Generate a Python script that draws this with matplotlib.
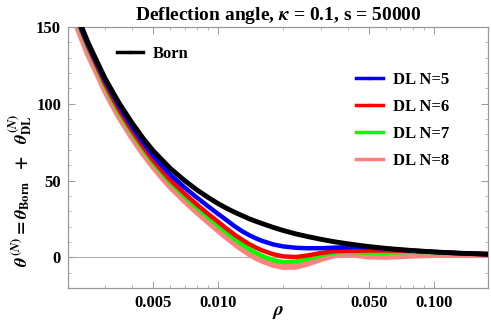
import matplotlib
matplotlib.use("Agg")
import matplotlib.pyplot as plt
from matplotlib.ticker import FixedLocator, FixedFormatter, MultipleLocator, NullFormatter
from matplotlib.lines import Line2D

# rho values (log x axis)
rho = [0.0022, 0.0025, 0.0027, 0.003, 0.0032, 0.0035, 0.004, 0.0045, 0.005, 0.0055,
       0.006, 0.007, 0.008, 0.009, 0.01, 0.011, 0.012, 0.013, 0.014, 0.015,
       0.016, 0.018, 0.02, 0.023, 0.026, 0.03, 0.035, 0.04, 0.045, 0.05,
       0.06, 0.07, 0.08, 0.1, 0.13, 0.18]

born = [159, 140, 130, 116.5, 109.5, 100, 87.5, 77.5, 69.5, 63.5,
        58, 50, 43.8, 39, 35, 31.8, 29.2, 27, 25, 23.4,
        22, 19.5, 17.5, 15.2, 13.5, 11.7, 10, 8.8, 7.8, 7,
        5.8, 5, 4.4, 3.5, 2.7, 1.95]
dl5 = [157.5, 138.5, 128.5, 115, 107.8, 98, 85, 74.8, 66.3, 59.8,
       54, 45.5, 38.8, 33.2, 28.3, 24, 20, 16.8, 14.3, 12.3,
       10.7, 8.4, 7.1, 6.2, 5.9, 5.9, 6.3, 6.6, 6.7, 6.5,
       5.6, 4.9, 4.3, 3.5, 2.7, 1.95]
dl6 = [156.5, 137.5, 127, 113, 105.5, 95.5, 82.5, 72, 63.3, 56.5,
       50.5, 41.5, 34.3, 28.3, 23.2, 18.5, 14.5, 11.2, 8.5, 6.3,
       4.5, 2.0, 0.6, 0.2, 1.2, 2.8, 4, 4.3, 4.3, 4.4,
       4.4, 4.3, 4.1, 3.4, 2.7, 1.95]
dl7 = [155.5, 136.5, 126, 111.5, 104, 94, 81, 70.5, 61.8, 55,
       49, 39.8, 32.3, 26.2, 20.8, 16, 11.8, 8.2, 5.2, 2.8,
       0.9, -1.8, -3.1, -2.8, -1.0, 1.4, 3.2, 3.6, 3.3, 3.0,
       3.0, 3.3, 3.5, 3.2, 2.6, 1.95]
dl8 = [153, 133, 123, 109, 101.5, 91.5, 78.5, 68, 59.5, 52.5,
       46.5, 37.2, 29.7, 23.5, 18, 13.2, 9, 5.4, 2.4, 0,
       -1.9, -4.6, -6, -5.8, -3.8, -0.8, 1.8, 2.4, 1.6, 0.8,
       0.6, 1.0, 1.4, 1.8, 1.9, 1.9]

plt.rcParams['font.family'] = ['Liberation Serif', 'DejaVu Serif']
plt.rcParams['font.weight'] = 'bold'
plt.rcParams['mathtext.fontset'] = 'stix'

fig = plt.figure(figsize=(4.91, 3.35), dpi=100)
ax = fig.add_axes([68/491, 1-288/335, 420/491, 261/335])

# zero line
ax.axhline(0, color='#b0b0b0', linewidth=0.8, zorder=1)

ax.plot(rho, dl8, color='#ff8080', linewidth=5, zorder=2)
ax.plot(rho, dl7, color='#00ff00', linewidth=3.2, zorder=3)
ax.plot(rho, dl6, color='#ff0000', linewidth=3.2, zorder=4)
ax.plot(rho, dl5, color='#0000ff', linewidth=3.2, zorder=5)
ax.plot(rho, born, color='black', linewidth=3.5, zorder=6)

ax.set_xscale('log')
ax.set_xlim(0.00202, 0.178)
ax.set_ylim(-20, 150)

ax.xaxis.set_major_locator(FixedLocator([0.005, 0.01, 0.05, 0.1]))
ax.xaxis.set_major_formatter(FixedFormatter(['0.005', '0.010', '0.050', '0.100']))
ax.xaxis.set_minor_locator(FixedLocator([0.003, 0.004, 0.006, 0.007, 0.008, 0.009,
                                         0.02, 0.03, 0.04, 0.06, 0.07, 0.08, 0.09]))
ax.xaxis.set_minor_formatter(NullFormatter())
ax.yaxis.set_major_locator(FixedLocator([0, 50, 100, 150]))
ax.yaxis.set_minor_locator(MultipleLocator(10))

ax.tick_params(which='both', direction='in', top=True, right=True, color='#999999',
               labelsize=12, pad=5)
ax.tick_params(which='major', length=5, width=0.7)
ax.tick_params(which='minor', length=2.5, width=0.5)
for s in ax.spines.values():
    s.set_color('#999999')
    s.set_linewidth(0.9)

ax.set_title(r'Deflection angle, $\kappa$ = 0.1, s = 50000', fontsize=14,
             fontweight='bold', pad=5)
ax.set_xlabel(r'$\rho$', fontsize=14)
ax.xaxis.set_label_coords(0.5, -0.06)
ax.set_ylabel(r'$\theta^{(N)} = \theta_{\mathbf{Born}}\ \ +\ \ \theta^{(N)}_{\mathbf{DL}}$',
              fontsize=13)
ax.yaxis.set_label_coords(-0.081, 0.375)

h_born = [Line2D([], [], color='black', linewidth=2.5, marker='.', markersize=3)]
leg1 = ax.legend(h_born, ['Born'], loc='upper left', bbox_to_anchor=(0.08, 0.985),
                 frameon=False, fontsize=12, handlelength=1.6, handletextpad=0.6)
ax.add_artist(leg1)

h_dl = [Line2D([], [], color=c, linewidth=2.5, marker='.', markersize=3)
        for c in ['#0000ff', '#ff0000', '#00ff00', '#ff8080']]
ax.legend(h_dl, ['DL N=5', 'DL N=6', 'DL N=7', 'DL N=8'], loc='upper left',
          bbox_to_anchor=(0.65, 0.885), frameon=False, fontsize=12,
          handlelength=1.6, handletextpad=0.6, labelspacing=0.65)

fig.savefig('out.png', dpi=100)
